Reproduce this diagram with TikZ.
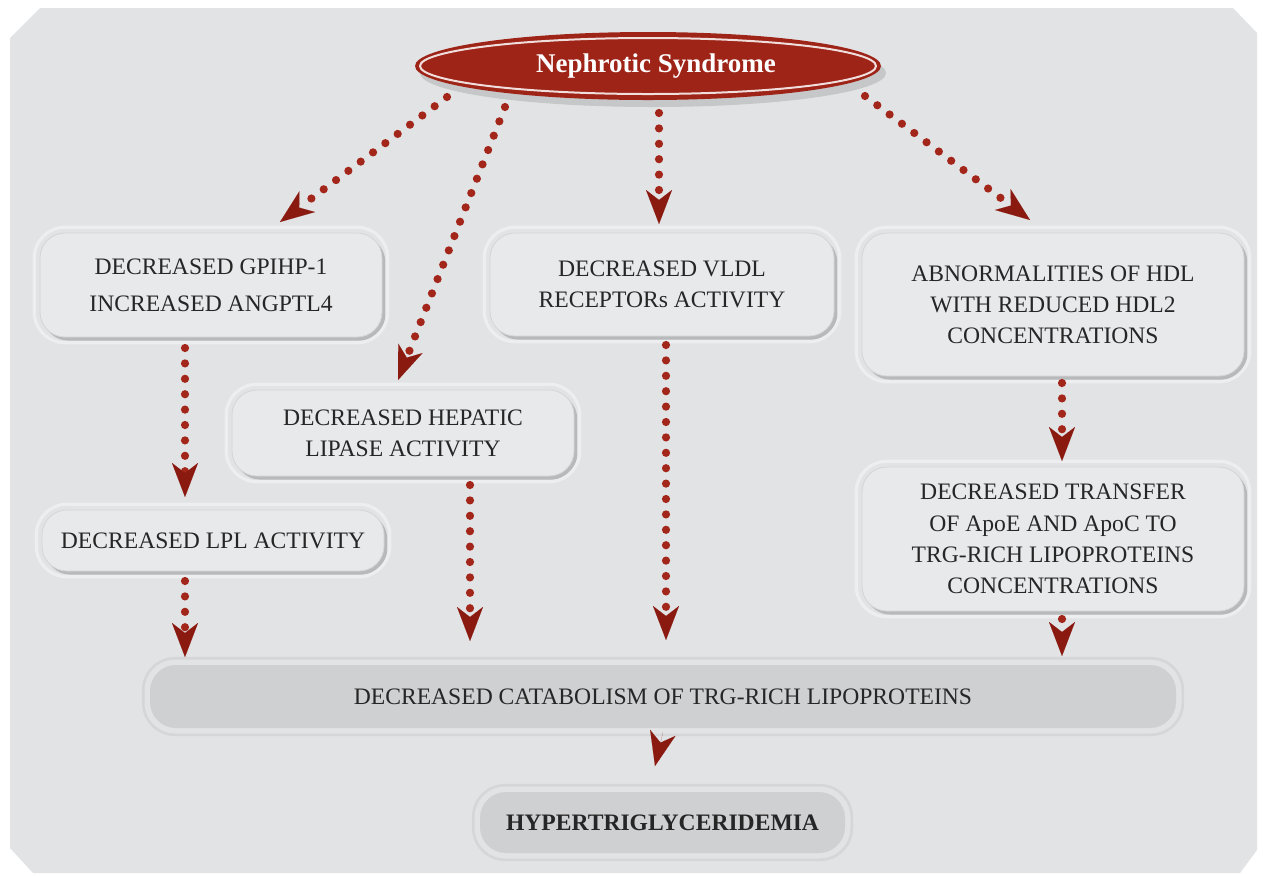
\documentclass[tikz,border=0pt]{standalone}
\usepackage{fontspec}
\setmainfont{Liberation Serif}
\usetikzlibrary{arrows.meta,shapes.geometric,shadows,calc}
\definecolor{bgc}{HTML}{E2E3E5}
\definecolor{boxfill}{HTML}{E8E9EB}
\definecolor{boxedge}{HTML}{D4D5D7}
\definecolor{ringlight}{HTML}{EDEEF0}
\definecolor{ringdark}{HTML}{D5D6D8}
\definecolor{darkfill}{HTML}{CFD0D2}
\definecolor{nsred}{HTML}{9E2418}
\definecolor{dotred}{HTML}{A3261B}
\definecolor{headred}{HTML}{8A1A10}
\definecolor{txt}{HTML}{262626}
\definecolor{shadowc}{HTML}{B4B5B7}
\begin{document}
\begin{tikzpicture}[x=0.5pt,y=-0.5pt,
  every node/.style={font=\fontsize{11.8}{15.6}\selectfont, text=txt},
  box/.style={rectangle, rounded corners=12.5pt, fill=boxfill, draw=boxedge, line width=0.4pt,
    inner sep=0pt, align=center,
    drop shadow={shadow xshift=1.6pt, shadow yshift=-1.8pt, fill=shadowc, opacity=0.9}},
  darkbox/.style={rectangle, rounded corners=13pt, fill=darkfill, draw=none,
    inner sep=0pt, align=center},
  ringL/.style={draw=ringlight, line width=1.6pt, rounded corners=15.5pt},
  ringD/.style={draw=ringdark, line width=1.3pt, rounded corners=16pt},
  dots/.style={draw=dotred, line width=4.1pt, line cap=round, dash pattern=on 0pt off 7.7pt,
    -{Stealth[length=17pt, width=13pt, inset=5pt, line width=0.01pt, fill=headred, color=headred]}},
  headonly/.style={draw=headred, line width=0.01pt,
    -{Stealth[length=17pt, width=13pt, inset=5pt, line width=0.01pt, fill=headred, color=headred]}}
]
\useasboundingbox (0,0) rectangle (1263,875);
\fill[white] (0,0) rectangle (1263,875);
\fill[bgc] (10,38) -- (40,8) -- (1233,8) -- (1257,33) -- (1257,850) -- (1240,873) -- (33,873) -- (10,848) -- cycle;

% title ellipse
\node[ellipse, fill=nsred, minimum width=233pt, minimum height=34pt, inner sep=0pt,
  drop shadow={shadow xshift=2.5pt, shadow yshift=-3.5pt, fill=shadowc, opacity=0.6},
  font=\fontsize{13.5}{15}\selectfont\bfseries, text=white] (ns) at (648,66) {\hspace{8pt}Nephrotic Syndrome};
\draw[white!85!nsred, line width=1pt] (ns.center) ellipse [x radius=228, y radius=28];

% boxes
\node[box, minimum width=171pt, minimum height=52pt] (b1) at (211,285) {DECREASED GPIHP-1\\[2.9pt]INCREASED ANGPTL4};
\node[box, minimum width=172pt, minimum height=51.5pt] (b2) at (662,284.5) {DECREASED VLDL\\RECEPTORs ACTIVITY};
\node[box, minimum width=191pt, minimum height=71.5pt] (b3) at (1053,304.5) {ABNORMALITIES OF HDL\\WITH REDUCED HDL2\\CONCENTRATIONS};
\node[box, minimum width=171pt, minimum height=43pt] (b4) at (403,433) {DECREASED HEPATIC\\LIPASE ACTIVITY};
\node[box, minimum width=171pt, minimum height=30.5pt] (b5) at (213,540.5) {DECREASED LPL ACTIVITY};
\node[box, minimum width=191pt, minimum height=72pt] (b6) at (1053,539) {DECREASED TRANSFER\\OF ApoE AND ApoC TO\\TRG-RICH LIPOPROTEINS\\CONCENTRATIONS};
\node[darkbox, minimum width=513pt, minimum height=31.5pt] (b7) at (663,696.5) {DECREASED CATABOLISM OF TRG-RICH LIPOPROTEINS};
\node[darkbox, minimum width=182.5pt, minimum height=30.5pt, font=\fontsize{11.8}{15.6}\selectfont\bfseries] (b8) at (662.5,822.5) {HYPERTRIGLYCERIDEMIA};

\foreach \n in {b1,b2,b3,b4,b5,b6}
  \draw[ringL] ($(\n.north west)+(-2.7pt,2.7pt)$) rectangle ($(\n.south east)+(2.7pt,-2.7pt)$);
\foreach \n in {b7,b8}
  \draw[ringD] ($(\n.north west)+(-3.2pt,3.2pt)$) rectangle ($(\n.south east)+(3.2pt,-3.2pt)$);

% connector ends
\coordinate (s1) at (447,97);   \coordinate (t1) at (280,222);
\coordinate (s2) at (505,107);  \coordinate (t2) at (398,380);
\coordinate (s3) at (659,113);  \coordinate (t3) at (659,224);
\coordinate (s4) at (865,96);   \coordinate (t4) at (1030,220);
\coordinate (s5) at (185,348);  \coordinate (t5) at (185,497);
\coordinate (s6) at (470,485);  \coordinate (t6) at (470,641);
\coordinate (s7) at (666,345);  \coordinate (t7) at (666,640);
\coordinate (s8) at (185,581);  \coordinate (t8) at (185,657);
\coordinate (s9) at (1062,383); \coordinate (t9) at (1062,461);
\coordinate (s10) at (1062,619);\coordinate (t10) at (1062,656);
\coordinate (s11) at (663,732); \coordinate (t11) at (655,766);

\draw[dots] (s1) -- (t1);
\draw[dots] (s2) -- (t2);
\draw[dots] (s3) -- (t3);
\draw[dots] (s4) -- (t4);
\draw[dots] (s5) -- (t5);
\draw[dots] (s6) -- (t6);
\draw[dots] (s7) -- (t7);
\draw[dots] (s8) -- (t8);
\draw[dots] (s9) -- (t9);
\draw[dots] (s10) -- (t10);
\draw[headonly] (s11) -- (t11);
\end{tikzpicture}
\end{document}
